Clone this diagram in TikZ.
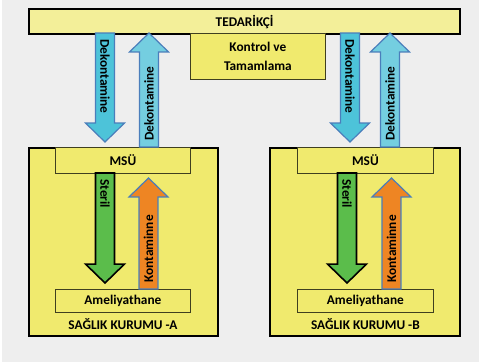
\documentclass[tikz,border=0pt]{standalone}
\usepackage{fontspec}
\setmainfont{Carlito}
\usepackage{tikz}
\usetikzlibrary{positioning, calc}
\definecolor{bgGray}{HTML}{EEEEEE}
\definecolor{yBar}{HTML}{F3EF99}
\definecolor{yBox}{HTML}{F0EA6E}
\definecolor{yCtl}{HTML}{F4F09E}
\definecolor{cDown}{HTML}{4DC3D9}
\definecolor{cUp}{HTML}{74CEE0}
\definecolor{gSter}{HTML}{5BBD4B}
\definecolor{oKont}{HTML}{EE8523}
\definecolor{aEdge}{HTML}{4A7EBB}
\definecolor{bEdge}{HTML}{3F3F1F}
\tikzset{
  lbl/.style={font=\bfseries\fontsize{10}{12}\selectfont, text=black, inner sep=0pt},
  hosp/.style={draw=black, line width=1.6pt, fill=yBox},
  subbox/.style={draw=bEdge, line width=0.6pt, fill=yBox},
  dekdown/.style={fill=cDown, draw=aEdge, line width=0.9pt},
  dekup/.style={fill=cUp, draw=aEdge, line width=0.9pt},
  sterarr/.style={fill=gSter, draw=black, line width=1.2pt},
  kontarr/.style={fill=oKont, draw=aEdge, line width=0.9pt},
}
% block arrow: style, tail, tip, label rotation, label
\newcommand{\blockarr}[5]{%
  \path[#1] let \p1=#2, \p2=#3, \n1={sign(\y2-\y1)} in
    (\x1-7.1pt,\y1) -- (\x1-7.1pt,\y2-\n1*14.2pt) -- (\x1-14.6pt,\y2-\n1*14.2pt)
    -- (\x1,\y2) -- (\x1+14.6pt,\y2-\n1*14.2pt) -- (\x1+7.1pt,\y2-\n1*14.2pt)
    -- (\x1+7.1pt,\y1) -- cycle;
  \path let \p1=#2, \p2=#3, \n1={sign(\y2-\y1)} in
    node[lbl, rotate=#4, anchor=west] at (\x1,\y1+\n1*4.5pt) {#5};
}
\begin{document}
\begin{tikzpicture}[x=0.75pt, y=0.75pt]
  \useasboundingbox (0,0) rectangle (479,362);
  \fill[white] (0,0) rectangle (479,362);
  \fill[bgGray] (2,0) rectangle (479,362);

  % supplier and control
  \node[draw=black, line width=1.6pt, fill=yBar, minimum width=431*0.75pt, minimum height=25*0.75pt,
    lbl, anchor=north west] (ted) at (28,354) {TEDARİKÇİ};
  \node[subbox, minimum width=135*0.75pt, minimum height=46*0.75pt, align=center,
    lbl, font=\bfseries\fontsize{10}{14.5}\selectfont, anchor=north west] (ktl) at (190,329) {Kontrol ve\\Tamamlama};

  % hospitals
  \node[hosp, minimum width=189*0.75pt, minimum height=188*0.75pt, anchor=north west] (hA) at (28,215) {};
  \node[hosp, minimum width=190*0.75pt, minimum height=188*0.75pt, anchor=north west] (hB) at (269,215) {};
  \node[subbox, lbl, minimum width=135*0.75pt, minimum height=26*0.75pt, anchor=north west] (msuA) at (55,215) {MSÜ};
  \node[subbox, lbl, minimum width=136*0.75pt, minimum height=26*0.75pt, anchor=north west] (msuB) at (297,215) {MSÜ};
  \node[subbox, lbl, minimum width=135*0.75pt, minimum height=23*0.75pt, anchor=north west] (amelA) at (55,73) {Ameliyathane};
  \node[subbox, lbl, minimum width=136*0.75pt, minimum height=23*0.75pt, anchor=north west] (amelB) at (297,73) {Ameliyathane};
  \node[lbl, below=5*0.75pt of amelA] (kurA) {SAĞLIK KURUMU -A};
  \node[lbl, below=5*0.75pt of amelB] (kurB) {SAĞLIK KURUMU -B};

  % supplier <-> hospitals
  \coordinate (tipA) at (105,220);
  \coordinate (tipB) at (350,220);
  \blockarr{dekdown}{(105,329)}{(tipA)}{-90}{Dekontamine}
  \blockarr{dekup}{(149,215)}{(149,329)}{90}{Dekontamine}
  \blockarr{dekdown}{(350,329)}{(tipB)}{-90}{Dekontamine}
  \blockarr{dekup}{(390,215)}{(390,329)}{90}{Dekontamine}

  % inside hospitals
  \coordinate (sA) at (105,79);
  \coordinate (kA) at (148.5,184);
  \coordinate (sB) at (347,79);
  \coordinate (kB) at (391.5,184);
  \blockarr{sterarr}{(105,189)}{(sA)}{-90}{Steril}
  \blockarr{kontarr}{(148.5,73)}{(kA)}{90}{Kontaminne}
  \blockarr{sterarr}{(347,189)}{(sB)}{-90}{Steril}
  \blockarr{kontarr}{(391.5,73)}{(kB)}{90}{Kontaminne}
\end{tikzpicture}
\end{document}
